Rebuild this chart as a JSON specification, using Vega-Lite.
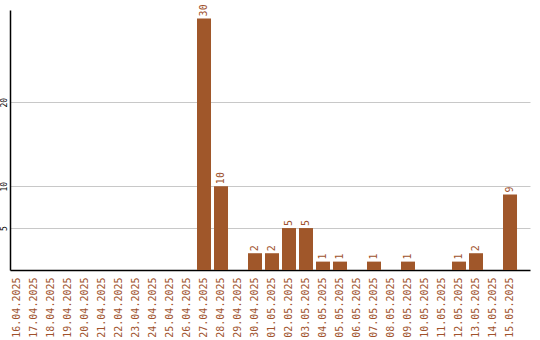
{
  "$schema": "https://vega.github.io/schema/vega-lite/v6.json",
  "width": 520,
  "height": 260,
  "autosize": "none",
  "padding": {"left": 10, "top": 10, "right": 10, "bottom": 70},
  "background": "white",
  "config": {"view": {"stroke": null}},
  "data": {"values": [
    {"date": "16.04.2025", "count": 0},
    {"date": "17.04.2025", "count": 0},
    {"date": "18.04.2025", "count": 0},
    {"date": "19.04.2025", "count": 0},
    {"date": "20.04.2025", "count": 0},
    {"date": "21.04.2025", "count": 0},
    {"date": "22.04.2025", "count": 0},
    {"date": "23.04.2025", "count": 0},
    {"date": "24.04.2025", "count": 0},
    {"date": "25.04.2025", "count": 0},
    {"date": "26.04.2025", "count": 0},
    {"date": "27.04.2025", "count": 30},
    {"date": "28.04.2025", "count": 10},
    {"date": "29.04.2025", "count": 0},
    {"date": "30.04.2025", "count": 2},
    {"date": "01.05.2025", "count": 2},
    {"date": "02.05.2025", "count": 5},
    {"date": "03.05.2025", "count": 5},
    {"date": "04.05.2025", "count": 1},
    {"date": "05.05.2025", "count": 1},
    {"date": "06.05.2025", "count": 0},
    {"date": "07.05.2025", "count": 1},
    {"date": "08.05.2025", "count": 0},
    {"date": "09.05.2025", "count": 1},
    {"date": "10.05.2025", "count": 0},
    {"date": "11.05.2025", "count": 0},
    {"date": "12.05.2025", "count": 1},
    {"date": "13.05.2025", "count": 2},
    {"date": "14.05.2025", "count": 0},
    {"date": "15.05.2025", "count": 9}
  ]},
  "encoding": {
    "x": {
      "field": "date", "type": "ordinal", "sort": null,
      "scale": {"paddingInner": 0.176, "paddingOuter": 0.382, "align": 0},
      "axis": {
        "title": null, "labelAngle": -90, "labelAlign": "right", "labelBaseline": "middle",
        "labelFont": "DejaVu Sans Mono", "labelFontSize": 10, "labelColor": "#A0522D",
        "ticks": false, "labelPadding": 7, "domainColor": "black", "domainWidth": 1.5, "grid": false
      }
    },
    "y": {
      "field": "count", "type": "quantitative",
      "scale": {"domain": [0, 31], "nice": false},
      "axis": {
        "title": null, "values": [5, 10, 20], "labelAngle": -90, "labelAlign": "center", "labelBaseline": "bottom",
        "labelFont": "DejaVu Sans Mono", "labelFontSize": 8, "labelColor": "black",
        "ticks": false, "labelPadding": 2, "domainColor": "black", "domainWidth": 1.5,
        "grid": true, "gridColor": "#c8c8c8", "gridWidth": 1
      }
    }
  },
  "layer": [
    {"mark": {"type": "bar", "color": "#A0572A"}},
    {
      "transform": [{"filter": "datum.count > 0"}],
      "mark": {"type": "text", "angle": 270, "align": "left", "baseline": "middle", "dx": 2,
               "font": "DejaVu Sans Mono", "fontSize": 10, "color": "#A0522D"},
      "encoding": {"text": {"field": "count", "type": "quantitative"}}
    }
  ]
}
